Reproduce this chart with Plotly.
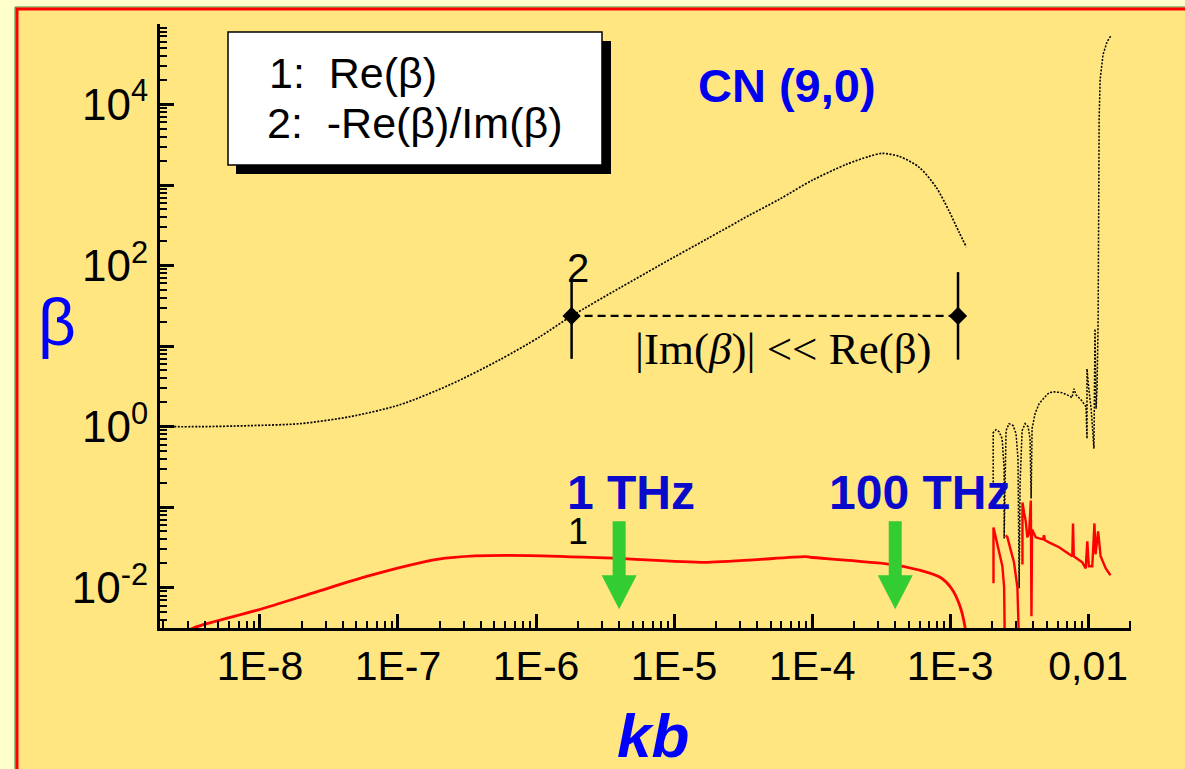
import numpy as np
import plotly.graph_objects as go

# ---- curve 2: -Re(beta)/Im(beta), main branch ----
kb_ratio = [1.89e-9, 3.68e-9, 8.47e-9, 1.95e-8, 4.48e-8, 1.03e-7, 2.37e-7, 5.45e-7,
            1.06e-6, 1.81e-6, 4.03e-6, 7.84e-6, 1.72e-5, 3.51e-5, 5.79e-5, 1.00e-4,
            1.77e-4, 2.59e-4, 3.22e-4, 4.28e-4, 5.97e-4, 7.92e-4, 9.83e-4, 1.16e-3, 1.31e-3]
ratio = [1.00, 1.00, 1.03, 1.09, 1.33, 1.87, 3.31, 6.76,
         13.0, 23.7, 52.6, 101, 213, 422, 666, 1145,
         1807, 2270, 2473, 2270, 1660, 938, 473, 260, 170]

# ---- curve 2: high-kb resonant branch ----
kb_ratio_hi = [2.05e-3, 2.05e-3, 2.15e-3, 2.26e-3, 2.38e-3, 2.46e-3, 2.46e-3, 2.50e-3,
               2.54e-3, 2.67e-3, 2.86e-3, 3.00e-3, 3.10e-3, 3.16e-3, 3.21e-3, 3.32e-3,
               3.49e-3, 3.67e-3, 3.79e-3, 3.86e-3, 3.92e-3, 4.12e-3, 4.41e-3, 4.87e-3,
               5.20e-3, 5.66e-3, 6.46e-3, 7.26e-3, 7.63e-3, 7.89e-3, 8.16e-3, 8.87e-3,
               9.64e-3, 9.80e-3, 9.80e-3, 1.01e-2, 1.05e-2, 1.10e-2, 1.12e-2, 1.14e-2,
               1.16e-2, 1.18e-2, 1.20e-2, 1.22e-2, 1.28e-2, 1.37e-2, 1.46e-2]
ratio_hi = [0.203, 0.843, 0.918, 0.867, 0.710, 0.302, 0.041, 0.302,
            0.892, 1.09, 1.03, 0.819, 0.401, 0.00986, 0.197, 0.892,
            1.09, 1.00, 0.710, 0.128, 0.944, 1.45, 1.93, 2.35,
            2.64, 2.71, 2.64, 2.42, 2.29, 2.96, 2.49, 2.16,
            1.77, 0.710, 5.23, 2.96, 1.67, 0.534, 16.4, 1.67,
            2.96, 21.7, 6520, 20400, 41600, 60300, 71500]

# ---- curve 1: Re(beta), main branch ----
kb_re = [2.64e-9, 3.54e-9, 9.74e-9, 2.40e-8, 5.93e-8, 1.22e-7, 1.92e-7, 3.61e-7,
         8.90e-7, 3.77e-6, 1.74e-5, 8.93e-5, 9.70e-5, 3.77e-4, 5.93e-4, 8.51e-4,
         1.02e-3, 1.17e-3, 1.28e-3, 1.32e-3]
re_beta = [0.00265, 0.00331, 0.00531, 0.00855, 0.0138, 0.0191, 0.0225, 0.0248,
           0.0251, 0.0232, 0.0207, 0.0243, 0.0239, 0.0195, 0.0166, 0.0134,
           0.00986, 0.00612, 0.00331, 0.00206]

# ---- curve 1: high-kb branch (None separates pieces) ----
kb_re_hi = [2.06e-3, 2.06e-3, 2.14e-3, 2.26e-3, 2.39e-3, 2.46e-3, 2.49e-3, None,
            2.53e-3, 2.60e-3, 2.75e-3, 2.90e-3, 3.07e-3, 3.16e-3, None,
            3.34e-3, 3.34e-3, 3.43e-3, 3.53e-3, 3.62e-3, 3.73e-3, 3.84e-3, 3.88e-3,
            3.92e-3, 4.17e-3, 4.41e-3, 4.71e-3, 4.78e-3, 4.87e-3, 5.20e-3, 6.15e-3,
            7.67e-3, 7.76e-3, 7.86e-3, 9.06e-3, 9.59e-3, 9.85e-3, 1.01e-2, 1.07e-2,
            1.11e-2, 1.13e-2, 1.18e-2, 1.23e-2, 1.34e-2, 1.45e-2]
re_beta_hi = [0.01137, 0.0561, 0.0422, 0.0291, 0.01845, 0.01014, 0.00178, None,
              0.0447, 0.0422, 0.0291, 0.0207, 0.01014, 0.00178, None,
              0.0195, 0.1146, 0.0861, 0.0666, 0.0422, 0.0473, 0.1213, 0.00444,
              0.0530, 0.0422, 0.0410, 0.0399, 0.0447, 0.0388, 0.0366, 0.0318,
              0.0246, 0.0629, 0.0246, 0.0207, 0.0174, 0.0377, 0.0185, 0.0185,
              0.0629, 0.0260, 0.0501, 0.0246, 0.0174, 0.0143]

# ---- validity window |Im(beta)| << Re(beta) ----
window_kb = [1.81e-6, 1.14e-3]
window_beta = [23.7, 23.7]
window_bar_top = [62.5, 83.0]
window_bar_bottom = [6.95, 6.8]

# ---- frequency markers ----
arrow_kb = [4.0e-6, 4.0e-4]
arrow_labels = ["1 THz", "100 THz"]
arrow_tip_beta = 5.4e-3

# ---- axis ticks ----
x_tickvals = [1e-8, 1e-7, 1e-6, 1e-5, 1e-4, 1e-3, 1e-2]
x_ticktext = ["1E-8", "1E-7", "1E-6", "1E-5", "1E-4", "1E-3", "0,01"]
y_tickvals = [1e-2, 1e-1, 1e0, 1e1, 1e2, 1e3, 1e4, 1e5]
y_ticktext = ["10<sup>-2</sup>", "", "10<sup>0</sup>", "", "10<sup>2</sup>", "",
              "10<sup>4</sup>", ""]

W, H = 1185, 769
L, R, T, B = 160, 54, 24, 141
PW, PH = W - L - R, H - T - B


def px(x):
    return (x - L) / PW


def py(y):
    return (H - B - y) / PH


INNER = "#FFE680"
OUTER = "#FFFFCC"
BLUE = "#0000EE"
SANS = "Liberation Sans, Arial, sans-serif"
SERIF = "Liberation Serif, Times New Roman, serif"

fig = go.Figure()

fig.add_trace(go.Scatter(x=kb_ratio, y=ratio, mode="lines",
                         line=dict(color="black", width=1.7, dash="2px,1.5px",
                                   shape="spline", smoothing=0.8),
                         hoverinfo="skip"))
fig.add_trace(go.Scatter(x=kb_ratio_hi, y=ratio_hi, mode="lines",
                         line=dict(color="black", width=1.5, dash="2px,1.5px"),
                         hoverinfo="skip"))
fig.add_trace(go.Scatter(x=kb_re, y=re_beta, mode="lines",
                         line=dict(color="#FF0000", width=2.8,
                                   shape="spline", smoothing=0.8),
                         hoverinfo="skip"))
fig.add_trace(go.Scatter(x=kb_re_hi, y=re_beta_hi, mode="lines", connectgaps=False,
                         line=dict(color="#FF0000", width=2.4), hoverinfo="skip"))

# validity window: dashed span with diamond end markers and bars
fig.add_trace(go.Scatter(x=window_kb, y=window_beta, mode="lines",
                         line=dict(color="black", width=2.2, dash="8px,5px"),
                         hoverinfo="skip"))
fig.add_trace(go.Scatter(
    x=window_kb, y=window_beta, mode="markers",
    marker=dict(symbol="diamond", size=14, color="black"),
    error_y=dict(type="data", symmetric=False,
                 array=[t - v for t, v in zip(window_bar_top, window_beta)],
                 arrayminus=[v - b for b, v in zip(window_bar_bottom, window_beta)],
                 thickness=2.5, width=0, color="black"),
    hoverinfo="skip"))

shapes = []
# page frame
shapes.append(dict(type="rect", xref="paper", yref="paper", layer="below",
                   x0=px(15), x1=px(1200), y0=py(790), y1=py(7),
                   line=dict(color="#3C8C3C", width=1), fillcolor=INNER))
shapes.append(dict(type="rect", xref="paper", yref="paper", layer="below",
                   x0=px(17), x1=px(1200), y0=py(790), y1=py(9),
                   line=dict(color="#FF0000", width=3), fillcolor=INNER))
# legend box with drop shadow
shapes.append(dict(type="rect", xref="paper", yref="paper",
                   x0=px(236), x1=px(611), y0=py(174), y1=py(41),
                   line=dict(width=0), fillcolor="black"))
shapes.append(dict(type="rect", xref="paper", yref="paper",
                   x0=px(228), x1=px(602), y0=py(165), y1=py(32),
                   line=dict(color="black", width=1.5), fillcolor="white"))
# green arrows
for k in arrow_kb:
    shapes.append(dict(type="path", xref="x", yref="y",
                       xsizemode="pixel", ysizemode="pixel",
                       xanchor=k, yanchor=arrow_tip_beta,
                       path="M-6.5,88 L6.5,88 L6.5,34 L17.5,34 L0,0 L-17.5,34 L-6.5,34 Z",
                       line=dict(width=0), fillcolor="#33CC33"))

annotations = [
    dict(text="1:&nbsp;&nbsp;Re(β)", x=px(267), y=py(73), xanchor="left", yanchor="middle",
         font=dict(family=SANS, size=43, color="black")),
    dict(text="2:&nbsp;&nbsp;-Re(β)/Im(β)", x=px(265), y=py(123), xanchor="left",
         yanchor="middle", font=dict(family=SANS, size=43, color="black")),
    dict(text="<b>CN (9,0)</b>", x=px(787), y=py(86), xanchor="center", yanchor="middle",
         font=dict(family=SANS, size=47, color=BLUE)),
    dict(text="2", x=px(578), y=py(268), xanchor="center", yanchor="middle",
         font=dict(family=SANS, size=40, color="black")),
    dict(text="1", x=px(578), y=py(531), xanchor="center", yanchor="middle",
         font=dict(family=SANS, size=36, color="black")),
    dict(text="|Im(<i>β</i>)| &lt;&lt; Re(β)", x=px(783), y=py(349), xanchor="center",
         yanchor="middle", font=dict(family=SERIF, size=45, color="black")),
    dict(text="β", x=px(57), y=py(322), xanchor="center", yanchor="middle",
         font=dict(family=SANS, size=66, color="#0000FF")),
    dict(text="<b><i>kb</i></b>", x=px(653), y=py(735), xanchor="center", yanchor="middle",
         font=dict(family=SANS, size=62, color="#0000FF")),
]
for k, lab, dx in zip(arrow_kb, arrow_labels, [12, 24]):
    annotations.append(dict(text="<b>" + lab + "</b>", xref="x", yref="paper",
                            x=np.log10(k), xshift=dx, y=py(492),
                            xanchor="center", yanchor="middle",
                            font=dict(family=SANS, size=48, color="#0A0ACC")))
for a in annotations:
    a.setdefault("xref", "paper")
    a.setdefault("yref", "paper")
    a["showarrow"] = False

axis_common = dict(
    type="log", showgrid=False, zeroline=False, showline=True, linecolor="black",
    linewidth=3, ticks="inside", ticklen=14, tickwidth=2.5, tickcolor="black",
    tickmode="array", mirror=False,
    minor=dict(ticks="inside", ticklen=7, tickwidth=2, tickcolor="black",
               dtick="D1", showgrid=False),
)

fig.update_layout(
    width=W, height=H,
    margin=dict(l=L, r=R, t=T, b=B),
    paper_bgcolor=OUTER, plot_bgcolor="rgba(0,0,0,0)",
    showlegend=False,
    shapes=shapes, annotations=annotations,
    xaxis=dict(range=[-8.724, -1.69], tickvals=x_tickvals, ticktext=x_ticktext,
               tickfont=dict(family=SANS, size=41, color="black"), **axis_common),
    yaxis=dict(range=[-2.5, 5.0], tickvals=y_tickvals, ticktext=y_ticktext,
               tickfont=dict(family=SANS, size=44, color="black"), **axis_common),
)

fig.write_html("out.html")
